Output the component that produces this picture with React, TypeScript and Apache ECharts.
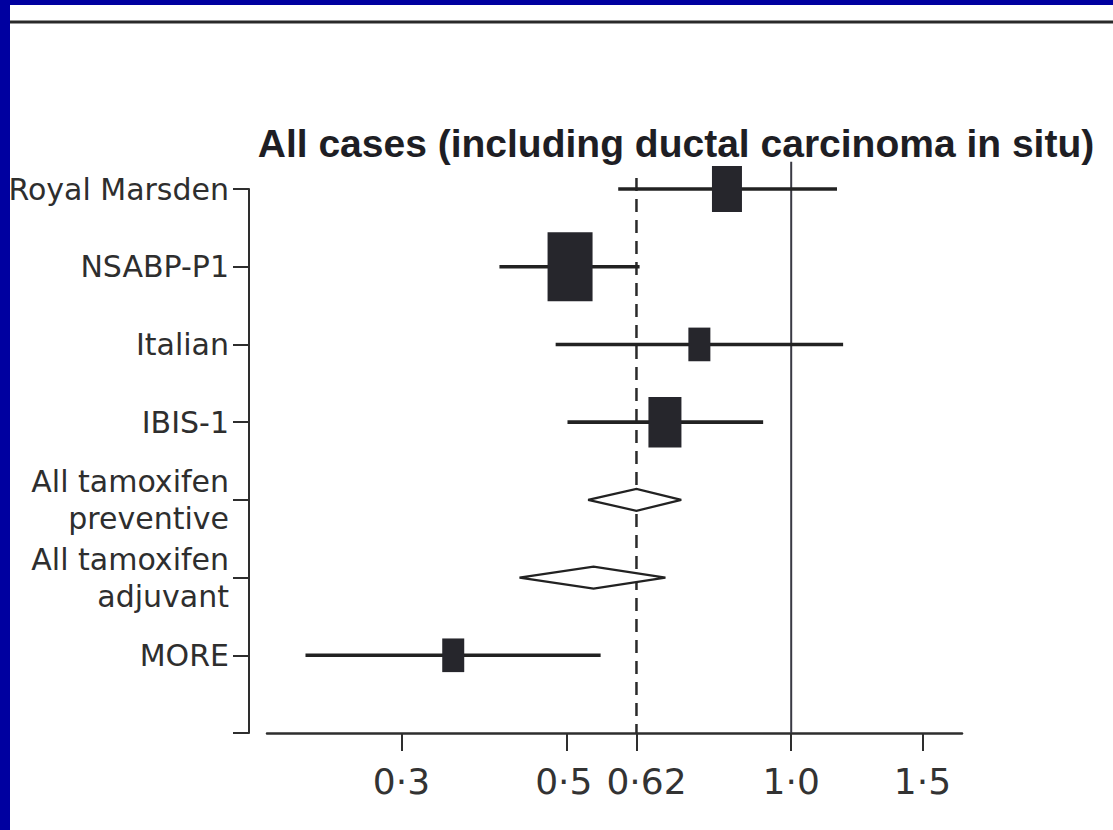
import React, { useEffect, useRef } from "react";
import * as echarts from "echarts";

// ---- data ----
const categories = [
  "Royal Marsden",
  "NSABP-P1",
  "Italian",
  "IBIS-1",
  "All tamoxifen\npreventive",
  "All tamoxifen\nadjuvant",
  "MORE",
];
const estimates = [0.82, 0.505, 0.753, 0.677, 0.62, 0.543, 0.352];
const lowerCI = [0.586, 0.406, 0.483, 0.501, 0.534, 0.432, 0.223];
const upperCI = [1.152, 0.626, 1.174, 0.917, 0.712, 0.678, 0.555];
const rowKind = ["study", "study", "study", "study", "pooled", "pooled", "study"];
const boxWeights = [30, 45, 22, 33, 0, 0, 22];
const tickValues = [0.3, 0.5, 0.62, 1.0, 1.5];
const tickLabels = ["0·3", "0·5", "0·62", "1·0", "1·5"];
const nullValue = 1.0;
const pooledValue = 0.62;
const titleText = "All cases (including ductal carcinoma in situ)";

export default function App() {
  const ref = useRef<HTMLDivElement>(null);

  useEffect(() => {
    document.body.style.margin = "0";
    document.body.style.background = "#ffffff";
    document.body.style.overflow = "hidden";
    document.documentElement.style.background = "#ffffff";
    if (!ref.current) return;
    const chart = echarts.init(ref.current, null, { renderer: "svg" });

    const rowCount = categories.length; // 7 rows + one empty slot at the bottom
    const boxData = estimates
      .map((e, i) => ({ e, i }))
      .filter((d) => rowKind[d.i] === "study")
      .map((d) => ({
        value: [d.e, d.i],
        symbolSize: [boxWeights[d.i], boxWeights[d.i] * 1.53],
      }));
    const ciData = categories.map((_, i) => [
      i,
      lowerCI[i],
      upperCI[i],
      estimates[i],
      rowKind[i] === "pooled" ? 1 : 0,
    ]);

    const xLabelFont = { fontFamily: "DejaVu Sans", fontSize: 36, color: "#333333" };

    const option: any = {
      animation: false,
      backgroundColor: "#ffffff",
      title: {
        text: titleText,
        left: 671,
        top: 119,
        textAlign: "center",
        textStyle: {
          fontFamily: "Liberation Sans",
          fontWeight: "bold",
          fontSize: 39,
          color: "#1e1e24",
        },
      },
      graphic: [
        { type: "rect", shape: { x: 0, y: 0, width: 10, height: 830 }, style: { fill: "#0000a0" }, z: 100 },
        { type: "rect", shape: { x: 0, y: 0, width: 1113, height: 5 }, style: { fill: "#0000a0" }, z: 100 },
        {
          type: "line",
          shape: { x1: 10, y1: 22, x2: 1113, y2: 22 },
          style: { stroke: "#2a2a2a", lineWidth: 3 },
        },
      ],
      grid: { left: 267, right: 151, top: 189, bottom: 97, containLabel: false },
      xAxis: {
        type: "log",
        logBase: 10,
        min: 0.198,
        max: 1.695,
        axisLine: { show: true, onZero: false, lineStyle: { color: "#2e2e2e", width: 2.5 } },
        axisTick: {
          show: true,
          length: 18,
          customValues: tickValues,
          lineStyle: { color: "#2e2e2e", width: 2 },
        },
        minorTick: { show: false },
        splitLine: { show: false },
        axisLabel: {
          customValues: tickValues,
          margin: 30,
          ...xLabelFont,
          rich: {
            n: { ...xLabelFont },
            l: { ...xLabelFont, padding: [0, 6, 0, 0] },
            r: { ...xLabelFont, padding: [0, 0, 0, 20] },
          },
          formatter: (v: number) => {
            const k = tickValues.findIndex((t) => Math.abs(t - v) < 1e-6);
            if (k < 0) return "";
            const style = k === 1 ? "l" : k === 2 ? "r" : "n";
            return "{" + style + "|" + tickLabels[k] + "}";
          },
        },
      },
      yAxis: {
        type: "value",
        min: 0,
        max: rowCount,
        interval: 1,
        inverse: true,
        offset: 18,
        axisLine: { show: true, onZero: false, lineStyle: { color: "#2e2e2e", width: 2 } },
        axisTick: { show: true, length: 16, lineStyle: { color: "#2e2e2e", width: 2 } },
        splitLine: { show: false },
        axisLabel: {
          margin: 20,
          fontFamily: "DejaVu Sans",
          fontSize: 30,
          lineHeight: 37,
          color: "#2e2e2e",
          align: "right",
          formatter: (v: number) => categories[Math.round(v)] ?? "",
        },
      },
      series: [
        {
          type: "line",
          data: [
            [nullValue, -0.35],
            [nullValue, rowCount],
          ],
          showSymbol: false,
          symbol: "none",
          clip: false,
          lineStyle: { color: "#3a3a44", width: 2 },
          z: 1,
        },
        {
          type: "line",
          data: [
            [pooledValue, -0.14],
            [pooledValue, rowCount],
          ],
          showSymbol: false,
          symbol: "none",
          clip: false,
          lineStyle: { color: "#2a2a2a", width: 2.5, type: [13, 8] },
          z: 1,
        },
        {
          type: "custom",
          data: ciData,
          encode: { x: [1, 2], y: 0 },
          clip: false,
          z: 3,
          renderItem: (params: any, api: any) => {
            const row = api.value(0);
            const lo = api.coord([api.value(1), row]);
            const hi = api.coord([api.value(2), row]);
            const mid = api.coord([api.value(3), row]);
            const pooled = api.value(4) === 1;
            if (pooled) {
              const h = 11;
              return {
                type: "polygon",
                shape: {
                  points: [
                    [lo[0], lo[1]],
                    [mid[0], mid[1] - h],
                    [hi[0], hi[1]],
                    [mid[0], mid[1] + h],
                  ],
                },
                style: { fill: "#ffffff", stroke: "#222222", lineWidth: 2.2 },
              };
            }
            return {
              type: "line",
              shape: { x1: lo[0], y1: lo[1], x2: hi[0], y2: hi[1] },
              style: { stroke: "#222222", lineWidth: 3.6 },
            };
          },
        },
        {
          type: "scatter",
          data: boxData,
          symbol: "rect",
          clip: false,
          itemStyle: { color: "#26262c", opacity: 1 },
          z: 4,
        },
      ],
    };

    chart.setOption(option);
    return () => chart.dispose();
  }, []);

  return <div ref={ref} style={{ width: 1113, height: 830, background: "#ffffff" }} />;
}
